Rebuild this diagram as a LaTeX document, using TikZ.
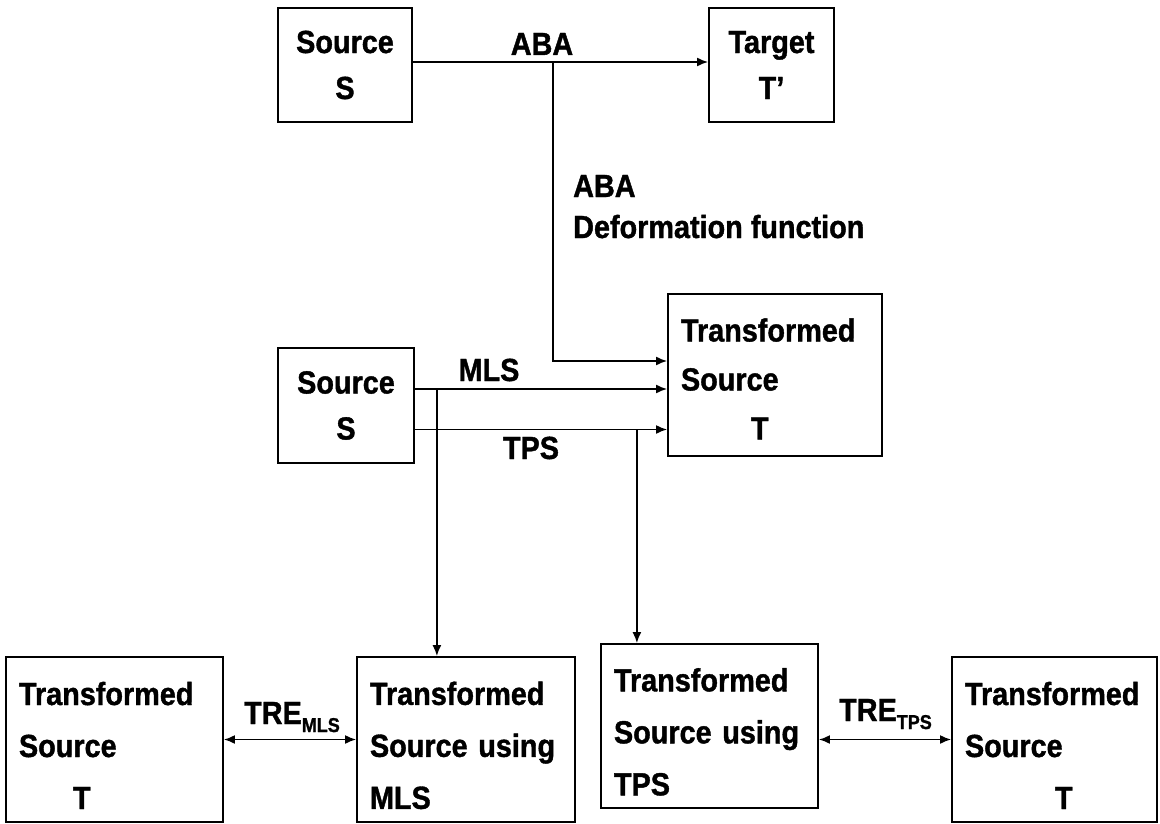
\documentclass[tikz,border=0pt]{standalone}
\usepackage{fontspec}
\setmainfont{Liberation Sans}[FakeStretch=0.9, BoldFeatures={FakeBold=1.2}]
\usetikzlibrary{arrows.meta,calc}
\newcommand\subtx[1]{\raisebox{-8pt}{\fontsize{20}{20}\selectfont #1}}
\newcommand\topstrut[1]{\rule{0pt}{#1}}
\tikzset{
  lw/.style={line width=1.8pt},
  box/.style={draw, lw, inner ysep=0pt, font=\fontsize{32}{52}\selectfont\bfseries},
  cbox/.style={box, align=center, inner xsep=0pt, font=\fontsize{32}{46}\selectfont\bfseries},
  lbox/.style={box, align=left, inner xsep=13pt},
  lbl/.style={inner sep=0pt, font=\fontsize{32}{36}\selectfont\bfseries},
  tip/.tip={Latex[length=11pt,width=9pt]},
  conn/.style={lw, -tip},
  dconn/.style={lw, tip-tip}
}
\begin{document}
\begin{tikzpicture}[x=1pt,y=-1pt]
\useasboundingbox (0,0) rectangle (1160,824);
% boxes
\node[cbox, minimum width=134pt, minimum height=114pt] (srcA) at (345,65) {Source\\S};
\node[cbox, minimum width=125pt, minimum height=114pt] (tgt) at (771.5,65) {Target\\T'};
\node[cbox, minimum width=136pt, minimum height=115pt] (srcB) at (346,405.5) {Source\\S};
\node[lbox, font=\fontsize{32}{49}\selectfont\bfseries, text width=188pt, minimum height=162pt] (tmid) at (775,375) {\topstrut{31pt}Transformed\\Source\\\hspace*{70pt}T};
\node[lbox, text width=191pt, minimum height=165pt] (blT) at (114.5,739.5) {\topstrut{35pt}Transformed\\Source\\\hspace*{54pt}T};
\node[lbox, text width=192pt, minimum height=165pt] (blMLS) at (466,739.5) {\topstrut{35pt}Transformed\\Source using\\MLS};
\node[lbox, text width=191pt, minimum height=164pt] (blTPS) at (709.5,726) {\topstrut{35pt}Transformed\\Source using\\TPS};
\node[lbox, text width=179pt, minimum height=165pt] (blT2) at (1054.5,739.5) {\topstrut{35pt}Transformed\\Source\\\hspace*{90pt}T};
% labels
\node[lbl, anchor=base] (lblABA) at (542,55) {ABA};
\node[lbl, anchor=base west] (lblABA2) at (573,197) {ABA};
\node[lbl, anchor=base west] (lblDef) at (573,238) {Deformation function};
\node[lbl, anchor=base] (lblMLS) at (489,381) {MLS};
\node[lbl, anchor=base] (lblTPS) at (531,459) {TPS};
\node[lbl, anchor=base west] (lblTREm) at (244,724) {TRE\subtx{MLS}};
\node[lbl, anchor=base west] (lblTREt) at (839,721) {TRE\subtx{TPS}};
% connectors
\draw[conn] ([yshift=3pt]srcA.east) -- ([yshift=3pt]tgt.west);
\coordinate (abaJ) at (553,62);
\draw[conn] (abaJ) |- ([yshift=14pt]tmid.west);
\coordinate (mlsS) at ([yshift=16.5pt]srcB.east);
\coordinate (tpsS) at ([yshift=-24pt]srcB.east);
\draw[conn] (mlsS) -- (mlsS -| tmid.west);
\draw[conn] (tpsS) -- (tpsS -| tmid.west);
\coordinate (mlsJ) at ($(mlsS)+(22,0)$);
\coordinate (tpsJ) at ($(tpsS)+(222,0)$);
\draw[conn] (mlsJ) -- (mlsJ |- blMLS.north);
\draw[conn] (tpsJ) -- (tpsJ |- blTPS.north);
\draw[dconn] (blT.east) -- (blMLS.west);
\draw[dconn] (blT2.west -| blTPS.east) -- (blT2.west);
\end{tikzpicture}
\end{document}
